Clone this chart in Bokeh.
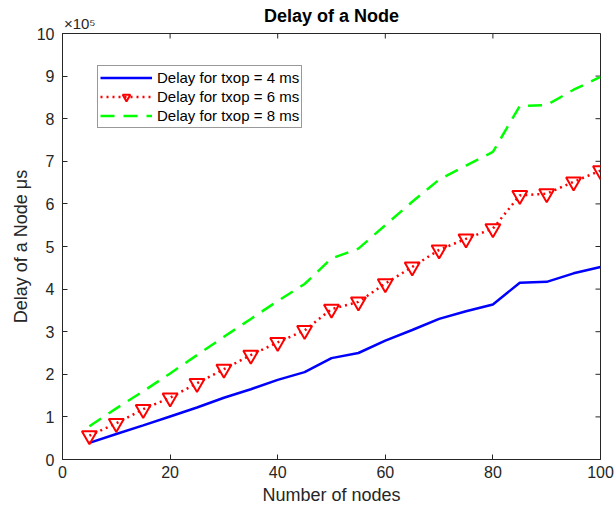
import numpy as np
from bokeh.plotting import figure
from bokeh.models import (Range1d, FixedTicker, Legend, LegendItem, ColumnDataSource, LinearAxis,
                          PrintfTickFormatter)
from bokeh.embed import file_html
from bokeh.resources import INLINE

# ---- data (delay in microseconds) ----
nodes = [5, 10, 15, 20, 25, 30, 35, 40, 45, 50, 55, 60, 65, 70, 75, 80, 85, 90, 95, 100]
delay_txop_4ms = [39000, 60000, 80000, 101000, 122000, 145000, 165000, 187000, 205000, 238000,
                  250000, 279000, 304000, 330000, 348000, 364000, 415000, 417000, 437000, 452000]
delay_txop_6ms = [56000, 85000, 118000, 145000, 179000, 212000, 245000, 275000, 303000, 353000,
                  370000, 413000, 452000, 492000, 518000, 542000, 620000, 624000, 652000, 678000]
delay_txop_8ms = [78000, 120000, 160000, 202000, 245000, 288000, 330000, 372000, 412000, 472000,
                  495000, 550000, 605000, 657000, 690000, 722000, 830000, 832000, 868000, 898000]
x_ticks = [0, 20, 40, 60, 80, 100]
y_ticks = [0, 1, 2, 3, 4, 5, 6, 7, 8, 9, 10]
y_exponent = 5
title_text = "Delay of a Node"
labels = ["Delay for txop = 4 ms", "Delay for txop = 6 ms", "Delay for txop = 8 ms"]

scale = 10 ** y_exponent
src = ColumnDataSource(dict(
    x=nodes,
    d4=[v / scale for v in delay_txop_4ms],
    d6=[v / scale for v in delay_txop_6ms],
    d8=[v / scale for v in delay_txop_8ms],
))

FONT = "Liberation Sans"
AX = "#262626"

p = figure(width=614, height=517, output_backend="svg", toolbar_location=None,
           x_range=Range1d(x_ticks[0], x_ticks[-1]), y_range=Range1d(y_ticks[0], y_ticks[-1]),
           min_border_left=62, min_border_right=14, min_border_top=33, min_border_bottom=58)
p.background_fill_color = "white"
p.border_fill_color = "white"
p.outline_line_color = AX
p.outline_line_width = 1
p.xgrid.visible = False
p.ygrid.visible = False

for ax in (p.xaxis[0], p.yaxis[0]):
    ax.axis_line_color = AX
    ax.major_tick_line_color = AX
    ax.major_tick_in = 5
    ax.major_tick_out = 0
    ax.minor_tick_line_color = None
    ax.major_label_text_font = FONT
    ax.major_label_text_font_size = "16px"
    ax.major_label_text_color = AX
    ax.axis_label_text_font = FONT
    ax.axis_label_text_font_size = "18px"
    ax.axis_label_text_font_style = "normal"
    ax.axis_label_text_color = AX

p.xaxis.ticker = FixedTicker(ticks=x_ticks)
p.yaxis.ticker = FixedTicker(ticks=y_ticks)
p.xaxis.axis_label = "Number of nodes"
p.yaxis.axis_label = "Delay of a Node \u03bcs"
p.xaxis.major_label_standoff = 6
p.xaxis.axis_label_standoff = 4
p.yaxis.major_label_standoff = 8
p.yaxis.axis_label_standoff = 3

# top strip: exponent marker (as a tick label) and the title (as the axis label), same row
mult_pos = 3.2
top = LinearAxis(ticker=FixedTicker(ticks=[mult_pos]),
                 formatter=PrintfTickFormatter(format="\u00d710\u2075"))
top.axis_line_color = None
top.major_tick_line_color = None
top.minor_tick_line_color = None
top.major_tick_in = 0
top.major_tick_out = 0
top.major_label_text_font = FONT
top.major_label_text_font_size = "15px"
top.major_label_text_color = AX
top.major_label_standoff = 2
top.axis_label = title_text
top.axis_label_text_font = FONT
top.axis_label_text_font_size = "18px"
top.axis_label_text_font_style = "bold"
top.axis_label_text_color = "black"
top.axis_label_standoff = -14
p.add_layout(top, "above")

# empty spacer strip above the title row (no ticks, no text)
spacer = LinearAxis(ticker=FixedTicker(ticks=[]))
spacer.axis_line_color = None
spacer.major_tick_line_color = None
spacer.minor_tick_line_color = None
spacer.major_tick_in = 0
spacer.major_tick_out = 3
spacer.major_label_standoff = 0
p.add_layout(spacer, "above")

# inward ticks on the top and right edges of the box
p.ray(x=x_ticks, y=[y_ticks[-1]] * len(x_ticks), length=5, length_units="screen",
      angle=-np.pi / 2, line_color=AX, line_width=1)
p.ray(x=[x_ticks[-1]] * len(y_ticks), y=y_ticks, length=5, length_units="screen",
      angle=np.pi, line_color=AX, line_width=1)

r4 = p.line("x", "d4", source=src, line_color="#0000FF", line_width=2.5)
r6 = p.line("x", "d6", source=src, line_color="#FF0000", line_width=2.5, line_dash="2 4")
r6m = p.scatter("x", "d6", source=src, marker="inverted_triangle", size=15,
                line_color="#FF0000", line_width=2, fill_color=None)
r8 = p.line("x", "d8", source=src, line_color="#00FF00", line_width=2.5, line_dash="14 9")

legend = Legend(items=[
    LegendItem(label=labels[0], renderers=[r4]),
    LegendItem(label=labels[1], renderers=[r6, r6m]),
    LegendItem(label=labels[2], renderers=[r8]),
], location=(35, 331))
legend.label_text_font = FONT
legend.label_text_font_size = "15px"
legend.label_text_color = "black"
legend.glyph_width = 52
legend.glyph_height = 19
legend.label_height = 19
legend.spacing = 0
legend.padding = 2
legend.margin = 0
legend.label_standoff = 5
legend.border_line_color = "#333333"
legend.border_line_width = 1
legend.background_fill_color = "white"
legend.background_fill_alpha = 1
p.add_layout(legend)

open("out.html", "w").write(file_html(p, INLINE))
